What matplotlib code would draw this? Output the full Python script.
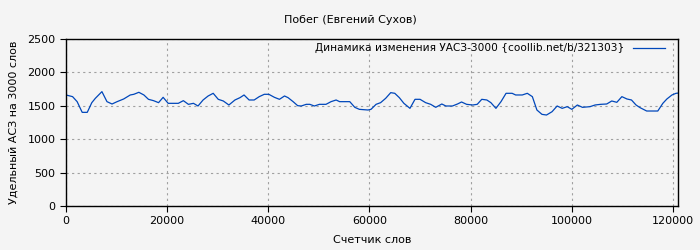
import matplotlib
matplotlib.use("Agg")
import matplotlib.pyplot as plt

words = [0, 1300, 2200, 3200, 4200, 5100, 5800, 7100, 8100, 9100, 10100, 11400,
         12700, 13400, 14400, 15400, 16300, 17300, 18300, 19200, 20200, 22200,
         23200, 24200, 25200, 26100, 27100, 28100, 29100, 30100, 31100, 32200,
         33400, 34400, 35200, 36200, 37200, 38200, 39200, 40100, 41200, 42200,
         43200, 43900, 44900, 45800, 46500, 47500, 48200, 49100, 50100, 51400,
         52400, 53400, 54100, 56100, 57100, 58000, 59700, 60300, 61300, 62200,
         63200, 64200, 65000, 65900, 66800, 68000, 69000, 70000, 71100, 72100,
         73100, 74300, 75100, 76400, 77400, 78200, 79200, 80400, 81300, 82200,
         83200, 84000, 85000, 86000, 87000, 88200, 88900, 90200, 91200, 92200,
         93100, 94100, 95000, 96100, 97100, 98100, 99100, 100000, 101100,
         102100, 103600, 104600, 105700, 106900, 107900, 108900, 109900,
         110900, 111800, 112700, 113500, 114800, 117000, 118000, 118800,
         119800, 120600, 121000]
values = [1662, 1637, 1562, 1402, 1402, 1547, 1612, 1712, 1562, 1527, 1562, 1602,
          1662, 1672, 1702, 1662, 1597, 1577, 1547, 1627, 1537, 1537,
          1577, 1522, 1537, 1497, 1587, 1647, 1687, 1597, 1572, 1512,
          1587, 1622, 1662, 1587, 1587, 1637, 1672, 1672, 1627, 1597,
          1647, 1622, 1562, 1502, 1497, 1522, 1522, 1497, 1522, 1522,
          1562, 1587, 1562, 1562, 1477, 1447, 1437, 1447, 1522, 1547,
          1612, 1697, 1687, 1622, 1537, 1462, 1597, 1597, 1547, 1522,
          1477, 1527, 1497, 1497, 1527, 1557, 1522, 1512, 1522, 1597,
          1587, 1547, 1462, 1562, 1687, 1687, 1662, 1662, 1687, 1637,
          1437, 1372, 1362, 1412, 1497, 1462, 1487, 1447, 1512,
          1477, 1487, 1512, 1522, 1527, 1572, 1552, 1637,
          1602, 1587, 1512, 1472, 1422, 1422, 1537, 1602,
          1662, 1687, 1690]

title = "Побег (Евгений Сухов)"
legend_label = "Динамика изменения УАСЗ-3000 {coollib.net/b/321303}"
xlabel = "Счетчик слов"
ylabel = "Удельный АСЗ на 3000 слов"
xticks = [0, 20000, 40000, 60000, 80000, 100000, 120000]
yticks = [0, 500, 1000, 1500, 2000, 2500]

bg = "#f4f4f4"
fig = plt.figure(figsize=(7, 2.5), dpi=100, facecolor=bg)
ax = fig.add_axes([0.0943, 0.176, 0.8743, 0.668], facecolor=bg)
ax.plot(words, values, color="#0047bb", lw=0.9, label=legend_label)
ax.set_xlim(0, 121000)
ax.set_ylim(0, 2500)
ax.set_xticks(xticks)
ax.set_yticks(yticks)
ax.grid(True, color="#a0a0a0", linestyle=(0, (2, 3)), lw=0.8)
for s in ax.spines.values():
    s.set_linewidth(1.0)
ax.tick_params(labelsize=8, length=4, width=0.8, direction="out")
ax.set_xlabel(xlabel, fontsize=8, labelpad=6)
ax.set_ylabel(ylabel, fontsize=8, labelpad=6)
fig.suptitle(title, fontsize=8, y=0.94)
leg = ax.legend(loc="upper right", bbox_to_anchor=(0.985, 1.0), frameon=False,
                fontsize=7.6, markerfirst=False, handlelength=3.0,
                borderaxespad=0.2, handletextpad=0.8, borderpad=0.2)
fig.savefig("out.png", dpi=100, facecolor=bg)
